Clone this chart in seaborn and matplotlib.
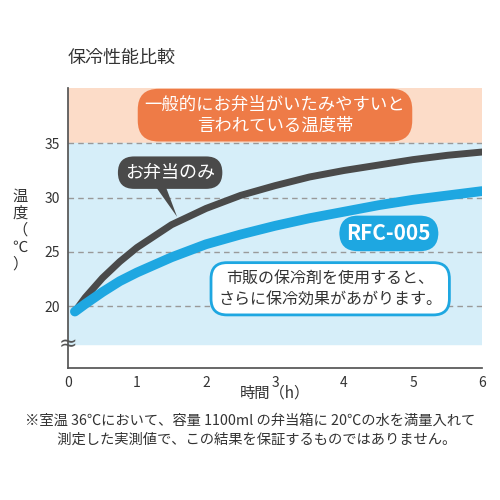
import matplotlib
matplotlib.use("Agg")
import matplotlib.pyplot as plt
import seaborn as sns
import pandas as pd

hours = [0.1, 0.25, 0.5, 0.75, 1, 1.5, 2, 2.5, 3, 3.5, 4, 4.5, 5, 5.5, 6]
plain_box = [19.5, 20.8, 22.6, 24.1, 25.4, 27.5, 29.0, 30.2, 31.1, 31.9, 32.5, 33.0, 33.5, 33.9, 34.2]  # お弁当のみ
rfc005 = [19.5, 20.2, 21.3, 22.3, 23.1, 24.5, 25.7, 26.6, 27.4, 28.1, 28.7, 29.3, 29.8, 30.2, 30.6]     # RFC-005
yticks = [20, 25, 30, 35]

sns.set_theme(style="white")
plt.rcParams['font.family'] = ['Noto Sans CJK JP', 'DejaVu Sans']

fig = plt.figure(figsize=(5, 5), dpi=100)
ax = fig.add_axes([0.136, 0.264, 0.828, 0.56])

ax.axhspan(35, 40.1, color="#fcdcc8", zorder=0)
ax.axhspan(16.5, 35, color="#d6eef9", zorder=0)
for y in yticks:
    ax.axhline(y, color="#999999", ls=(0, (4, 3)), lw=1, zorder=1)

df = pd.DataFrame({"h": hours * 2, "t": plain_box + rfc005,
                   "s": ["plain"] * len(hours) + ["rfc"] * len(hours)})
sns.lineplot(data=df[df.s == "plain"], x="h", y="t", color="#4a4a4a", lw=5, ax=ax, zorder=3)
sns.lineplot(data=df[df.s == "rfc"], x="h", y="t", color="#1ea7e1", lw=7, ax=ax, zorder=3)

ax.set_xlim(0, 6)
ax.set_ylim(14.3, 40.1)
ax.set_xticks(range(7))
ax.set_yticks(yticks)
ax.tick_params(labelsize=10, colors="#333333", length=0, pad=6)
for s in ["top", "right"]:
    ax.spines[s].set_visible(False)
for s in ["left", "bottom"]:
    ax.spines[s].set_color("#555555")
ax.set_xlabel("")
ax.set_ylabel("")
ax.text(0, 16.5, "≈", fontsize=16, ha="center", va="center", color="#555555",
        family="DejaVu Sans", zorder=5)

ax.text(3.0, 37.6, "一般的にお弁当がいたみやすいと\n言われている温度帯", ha="center", va="center",
        fontsize=12.5, color="white", linespacing=1.2,
        bbox=dict(boxstyle="round,pad=0.4,rounding_size=1.2", fc="#ee7b47", ec="none"), zorder=4)
ax.annotate("", xy=(1.6, 28.0), xytext=(1.3, 31.6),
            arrowprops=dict(arrowstyle="wedge,tail_width=0.6", fc="#4a4a4a", ec="none"), zorder=4)
ax.text(1.48, 32.3, "お弁当のみ", ha="center", va="center", fontsize=13, color="white",
        bbox=dict(boxstyle="round,pad=0.4,rounding_size=0.9", fc="#4a4a4a", ec="none"), zorder=5)
ax.text(4.65, 26.7, "RFC-005", ha="center", va="center", fontsize=15, color="white", weight="bold",
        bbox=dict(boxstyle="round,pad=0.35,rounding_size=0.9", fc="#1ea7e1", ec="none"), zorder=5)
ax.text(3.8, 21.6, "市販の保冷剤を使用すると、\nさらに保冷効果があがります。", ha="center", va="center",
        fontsize=11.5, color="#333333", linespacing=1.3,
        bbox=dict(boxstyle="round,pad=0.45,rounding_size=1.0", fc="white", ec="#1ea7e1", lw=2), zorder=5)

fig.text(0.136, 0.885, "保冷性能比較", fontsize=13, color="#333333", va="center")
fig.text(0.04, 0.54, "温\n度\n（\n℃\n）", fontsize=11, color="#333333", ha="center", va="center",
         linespacing=1.0)
fig.text(0.55, 0.213, "時間（h）", fontsize=11, color="#333333", ha="center", va="center")
fig.text(0.5, 0.14, "※室温 36℃において、容量 1100ml の弁当箱に 20℃の水を満量入れて\n　測定した実測値で、この結果を保証するものではありません。",
         fontsize=10.3, color="#333333", ha="center", va="center", linespacing=1.5)

fig.savefig("out.png", dpi=100)
